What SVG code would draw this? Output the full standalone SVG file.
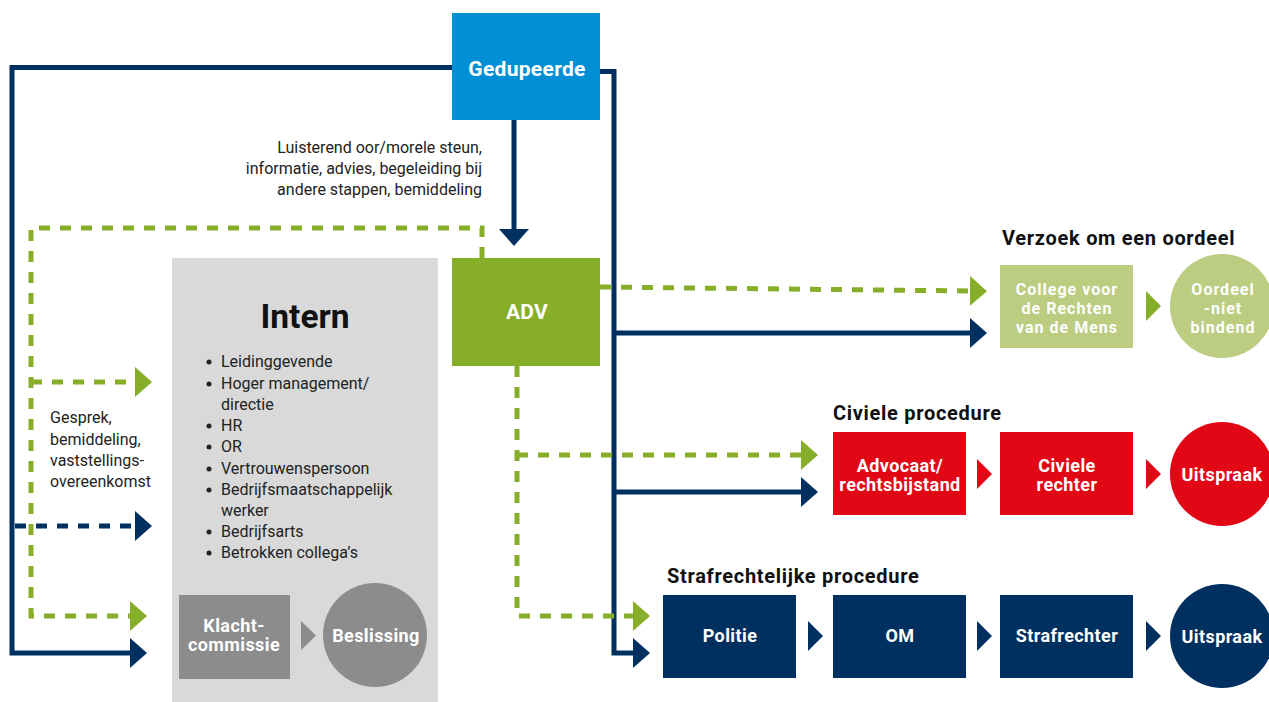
<svg xmlns="http://www.w3.org/2000/svg" width="1269" height="702" viewBox="0 0 1269 702">
<defs>
<style>
text{font-family:Roboto,"DejaVu Sans",sans-serif}
.w{fill:#fff;font-weight:bold;font-size:18px;text-anchor:middle;letter-spacing:0.4px}
.w3{font-size:16px;letter-spacing:1px}
.h{fill:#111;font-weight:bold;font-size:20px;letter-spacing:0.7px}
.t{fill:#222;font-size:16px}
.b{font-size:16px;fill:#222}
.navy{fill:none;stroke:#00305f;stroke-width:5}
.navyd{fill:none;stroke:#00305f;stroke-width:5;stroke-dasharray:11 10}
.grn{fill:none;stroke:#87ae28;stroke-width:5;stroke-dasharray:11 10}
</style>
<marker id="an" markerUnits="userSpaceOnUse" markerWidth="17" markerHeight="30" refX="1" refY="15" orient="auto" viewBox="0 0 17 30"><path d="M0,0 L17,15 L0,30 Z" fill="#00305f"/></marker>
<marker id="ag" markerUnits="userSpaceOnUse" markerWidth="17" markerHeight="30" refX="1" refY="15" orient="auto" viewBox="0 0 17 30"><path d="M0,0 L17,15 L0,30 Z" fill="#87ae28"/></marker>
</defs>

<g id="intern-bg">
<rect x="172" y="258" width="266" height="444" fill="#d9d9d9"/>
<text x="305" y="328" style="font-size:33.5px;font-weight:bold;fill:#111;text-anchor:middle">Intern</text>
<g class="b">
<circle cx="209" cy="362" r="2.5" fill="#222"/><text class="b" x="221" y="367">Leidinggevende</text>
<circle cx="209" cy="384" r="2.5" fill="#222"/><text class="b" x="221" y="389">Hoger management/</text>
<text class="b" x="221" y="410">directie</text>
<circle cx="209" cy="426" r="2.5" fill="#222"/><text class="b" x="221" y="431">HR</text>
<circle cx="209" cy="447" r="2.5" fill="#222"/><text class="b" x="221" y="452">OR</text>
<circle cx="209" cy="469" r="2.5" fill="#222"/><text class="b" x="221" y="474">Vertrouwenspersoon</text>
<circle cx="209" cy="490" r="2.5" fill="#222"/><text class="b" x="221" y="495">Bedrijfsmaatschappelijk</text>
<text class="b" x="221" y="516">werker</text>
<circle cx="209" cy="532" r="2.5" fill="#222"/><text class="b" x="221" y="537">Bedrijfsarts</text>
<circle cx="209" cy="553" r="2.5" fill="#222"/><text class="b" x="221" y="558">Betrokken collega’s</text>
</g>
</g>

<g id="connectors">
<path class="navy" d="M452,67.5 H12 V653 H131" marker-end="url(#an)"/>
<path class="navy" d="M600,71.5 H614 V653 H634" marker-end="url(#an)"/>
<path class="navy" d="M614,333 H971" marker-end="url(#an)"/>
<path class="navy" d="M614,492 H802" marker-end="url(#an)"/>
<path class="navy" d="M514,120 V230" marker-end="url(#an)"/>
<path class="navyd" d="M15,526 H136" marker-end="url(#an)"/>
<path class="grn" d="M482,258 V228 H31 V616 H131" marker-end="url(#ag)"/>
<path class="grn" d="M31,382 H136" marker-end="url(#ag)"/>
<path class="grn" d="M600,287 L971,291" marker-end="url(#ag)"/>
<path class="grn" d="M517,366 V616 H634" marker-end="url(#ag)"/>
<path class="grn" d="M517,455 H802" marker-end="url(#ag)"/>
<path d="M301,621 L316,635.5 L301,650 Z" fill="#8c8c8c"/>
<path d="M1146,291 L1161,306 L1146,321 Z" fill="#87ae28"/>
<path d="M977,459 L992,474 L977,489 Z" fill="#e20714"/>
<path d="M1146,459 L1161,474 L1146,489 Z" fill="#e20714"/>
<path d="M808,621 L823,636 L808,651 Z" fill="#00305f"/>
<path d="M977,621 L992,636 L977,651 Z" fill="#00305f"/>
<path d="M1146,621 L1161,636 L1146,651 Z" fill="#00305f"/>
</g>

<g id="edge-label">
<text class="t" x="482" y="153" text-anchor="end">Luisterend oor/morele steun,</text>
<text class="t" x="482" y="174" text-anchor="end">informatie, advies, begeleiding bij</text>
<text class="t" x="482" y="195" text-anchor="end">andere stappen, bemiddeling</text>
<text class="t" x="50" y="423">Gesprek,</text>
<text class="t" x="50" y="445">bemiddeling,</text>
<text class="t" x="50" y="466">vaststellings-</text>
<text class="t" x="50" y="487">overeenkomst</text>
</g>

<g id="gedupeerde">
<rect x="452" y="13" width="148" height="107" fill="#008fd5"/>
<text class="w" x="527" y="76" style="font-size:21px;letter-spacing:0.3px">Gedupeerde</text>
</g>
<g id="adv">
<rect x="452" y="258" width="148" height="108" fill="#87ae28"/>
<text class="w" x="527" y="319" style="font-size:21px;letter-spacing:0.3px">ADV</text>
</g>
<g id="klachtcommissie">
<rect x="179" y="595" width="111" height="84" fill="#8c8c8c"/>
<text class="w" x="234" y="632">Klacht-</text>
<text class="w" x="234" y="651">commissie</text>
</g>
<g id="beslissing">
<circle cx="375" cy="635" r="52" fill="#8c8c8c"/>
<text class="w" x="376" y="642">Beslissing</text>
</g>

<g id="verzoek">
<text class="h" x="1002" y="245">Verzoek om een oordeel</text>
</g>
<g id="college">
<rect x="1000" y="265" width="133" height="83" fill="#bccd82"/>
<text class="w w3" x="1067" y="295">College voor</text>
<text class="w w3" x="1067" y="314">de Rechten</text>
<text class="w w3" x="1067" y="333">van de Mens</text>
</g>
<g id="oordeel">
<circle cx="1222" cy="306" r="52" fill="#bccd82"/>
<text class="w w3" x="1223" y="295">Oordeel</text>
<text class="w w3" x="1223" y="314">-niet</text>
<text class="w w3" x="1223" y="333">bindend</text>
</g>

<g id="civiel-title">
<text class="h" x="833" y="420">Civiele procedure</text>
</g>
<g id="advocaat">
<rect x="833" y="432" width="133" height="83" fill="#e20714"/>
<text class="w" x="900" y="472">Advocaat/</text>
<text class="w" x="900" y="491">rechtsbijstand</text>
</g>
<g id="civiele-rechter">
<rect x="1000" y="432" width="133" height="83" fill="#e20714"/>
<text class="w" x="1067" y="472">Civiele</text>
<text class="w" x="1067" y="491">rechter</text>
</g>
<g id="uitspraak-civiel">
<circle cx="1222" cy="474" r="52" fill="#e20714"/>
<text class="w" x="1222" y="481">Uitspraak</text>
</g>

<g id="straf-title">
<text class="h" x="667" y="583">Strafrechtelijke procedure</text>
</g>
<g id="politie">
<rect x="663" y="595" width="133" height="83" fill="#00305f"/>
<text class="w" x="730" y="642">Politie</text>
</g>
<g id="om">
<rect x="833" y="595" width="133" height="83" fill="#00305f"/>
<text class="w" x="900" y="642">OM</text>
</g>
<g id="strafrechter">
<rect x="1000" y="595" width="133" height="83" fill="#00305f"/>
<text class="w" x="1067" y="642">Strafrechter</text>
</g>
<g id="uitspraak-straf">
<circle cx="1222" cy="636" r="52" fill="#00305f"/>
<text class="w" x="1222" y="643">Uitspraak</text>
</g>
</svg>
